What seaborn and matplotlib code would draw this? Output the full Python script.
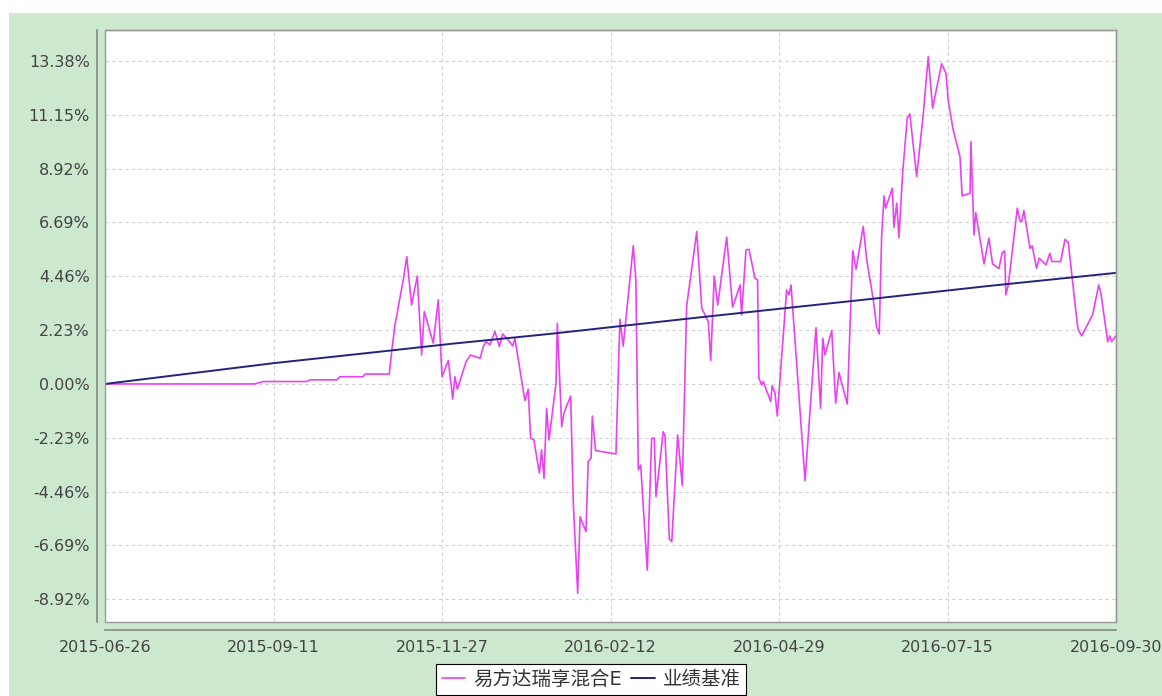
import pandas as pd
import matplotlib
matplotlib.use('Agg')
import matplotlib.pyplot as plt
from matplotlib.patches import Rectangle
import seaborn as sns

# tick positions / labels
tick_labels = ['2015-06-26', '2015-09-11', '2015-11-27', '2016-02-12',
               '2016-04-29', '2016-07-15', '2016-09-30']
ytick_vals = [-8.92, -6.69, -4.46, -2.23, 0.00, 2.23, 4.46, 6.69, 8.92, 11.15, 13.38]

series_names = ['易方达瑞享混合E', '业绩基准']

# fund cumulative return (%), x as days since 2015-06-26
fund_day = [0, 68.5, 72.3, 92.2, 93.7, 105.9, 107.4, 118.0, 118.8, 129.9,
            131.0, 132.5, 136.3, 137.9, 140.1, 142.7, 144.7, 145.9, 150.0, 152.3,
            154.0, 156.9, 158.9, 159.9, 161.0, 165.0, 167.1, 171.4, 172.9, 174.1,
            175.9, 178.2, 180.2, 181.7, 184.3, 186.3, 187.3, 190.4, 191.9, 193.4,
            194.5, 196.0, 198.5, 199.5, 200.6, 201.8, 202.9, 206.1, 206.7, 208.7,
            209.7, 212.8, 214.0, 216.0, 217.1, 219.8, 220.8, 222.1, 222.7, 224.2,
            233.5, 235.3, 236.8, 241.4, 242.6, 243.7, 244.8, 247.8, 249.8, 251.0,
            251.8, 255.1, 255.9, 257.9, 259.0, 261.7, 263.8, 265.8, 270.4, 272.7,
            275.7, 276.8, 278.4, 280.0, 284.1, 286.8, 290.2, 290.9, 292.9, 294.3,
            297.0, 298.2, 298.8, 300.1, 300.8, 304.2, 304.9, 306.2, 307.2, 311.5,
            312.6, 313.5, 319.9, 324.9, 327.0, 328.0, 329.0, 332.1, 333.9, 335.4,
            339.2, 341.7, 343.2, 346.5, 348.1, 351.1, 352.6, 353.8, 354.9, 356.0,
            356.7, 359.8, 360.5, 361.8, 362.8, 364.5, 366.6, 367.8, 370.9, 373.9,
            376.2, 378.2, 382.3, 384.3, 385.3, 387.6, 390.7, 391.7, 395.3, 395.7,
            397.1, 397.9, 401.7, 403.9, 405.6, 408.5, 410.0, 411.1, 411.7, 412.8,
            416.9, 418.1, 418.9, 419.9, 422.7, 423.7, 425.7, 426.9, 430.0, 431.8,
            432.7, 436.7, 438.7, 440.2, 444.3, 444.8, 446.3, 451.3, 454.1, 455.1,
            458.2, 459.2, 460.0, 462.0]
fund_ret = [0.00, 0.00, 0.10, 0.10, 0.17, 0.17, 0.30, 0.30, 0.41, 0.41,
            1.34, 2.44, 4.31, 5.27, 3.27, 4.47, 1.20, 3.00, 1.69, 3.48,
            0.30, 0.97, -0.63, 0.30, -0.22, 0.92, 1.20, 1.06, 1.55, 1.75,
            1.62, 2.17, 1.55, 2.07, 1.82, 1.57, 1.89, 0.17, -0.69, -0.22,
            -2.25, -2.32, -3.70, -2.73, -3.91, -1.01, -2.32, 0.03, 2.51, -1.77,
            -1.21, -0.50, -4.94, -8.67, -5.50, -6.12, -3.22, -3.08, -1.33, -2.76,
            -2.90, 2.68, 1.57, 5.72, 4.31, -3.56, -3.36, -7.71, -2.25, -2.25,
            -4.67, -1.98, -2.15, -6.43, -6.53, -2.11, -4.21, 3.23, 6.31, 3.14,
            2.58, 0.97, 4.47, 3.27, 6.08, 3.18, 4.10, 2.86, 5.55, 5.58,
            4.38, 4.31, 0.24, -0.04, 0.10, -0.73, -0.07, -0.39, -1.33, 3.89,
            3.69, 4.10, -4.01, 2.33, -1.01, 1.89, 1.20, 2.21, -0.80, 0.47,
            -0.83, 5.52, 4.75, 6.52, 5.14, 3.48, 2.37, 2.07, 6.10, 7.79,
            7.28, 8.11, 6.49, 7.49, 6.06, 8.73, 11.01, 11.18, 8.59, 11.14,
            13.56, 11.42, 13.26, 12.87, 11.76, 10.52, 9.42, 7.79, 7.90, 10.04,
            6.17, 7.10, 4.97, 6.04, 4.97, 4.78, 5.44, 5.51, 3.69, 4.10,
            7.28, 6.76, 6.72, 7.18, 5.62, 5.72, 4.79, 5.21, 4.93, 5.41,
            5.07, 5.07, 5.99, 5.85, 2.49, 2.24, 1.99, 2.86, 4.10, 3.76,
            1.75, 1.99, 1.75, 1.99]

# benchmark (%)
bench_day = [0, 77, 126, 158, 203, 272, 350, 385, 404, 462]
bench_ret = [0.00, 0.86, 1.34, 1.66, 2.07, 2.76, 3.52, 3.87, 4.06, 4.60]

start = pd.Timestamp('2015-06-26')
fund_dates = start + pd.to_timedelta(fund_day, unit='D')
bench_dates = start + pd.to_timedelta(bench_day, unit='D')
tick_dates = pd.to_datetime(tick_labels)

sns.set_style('white')
plt.rcParams['font.family'] = ['DejaVu Sans', 'Noto Sans CJK SC']

W, H = 1162, 696
fig = plt.figure(figsize=(W / 100, H / 100), dpi=100)
fig.patch.set_facecolor('white')
# green panel behind everything
fig.patches.append(Rectangle((9 / W, 0), 1, (H - 13) / H, transform=fig.transFigure,
                             facecolor='#CCE8CF', edgecolor='none', zorder=-5))

ax = fig.add_axes([105 / W, (H - 622) / H, 1011 / W, 592 / H])
ax.set_facecolor('white')

sns.lineplot(x=fund_dates, y=fund_ret, ax=ax, color='#E843F0', linewidth=1.2,
             estimator=None, sort=False, label=series_names[0])
sns.lineplot(x=bench_dates, y=bench_ret, ax=ax, color='#23237E', linewidth=1.4,
             estimator=None, sort=False, label=series_names[1])

ax.set_xlim(tick_dates[0], tick_dates[-1])
ax.set_ylim(-9.86, 14.66)
ax.set_xticks(tick_dates)
ax.set_xticklabels(tick_labels)
ax.set_yticks(ytick_vals)
ax.set_yticklabels(['%.2f%%' % v for v in ytick_vals])
ax.set_xlabel('')
ax.set_ylabel('')

ax.set_axisbelow(True)
ax.grid(True, color='#D0D0D0', linestyle=(0, (3, 3)), linewidth=0.8)

# offset axis lines plus a full border round the plot area
for s in ['left', 'bottom']:
    ax.spines[s].set_position(('outward', 5.5))
    ax.spines[s].set_color('#888888')
    ax.spines[s].set_linewidth(1.2)
for s in ['top', 'right']:
    ax.spines[s].set_color('#999999')
    ax.spines[s].set_linewidth(1.0)
ax.add_patch(Rectangle((0, 0), 1, 1, transform=ax.transAxes, fill=False,
                       edgecolor='#999999', linewidth=1.0, clip_on=False, zorder=3))

ax.tick_params(direction='out', length=2.5, width=1, color='#888888',
               labelsize=11.5, labelcolor='#444444')
ax.tick_params(axis='y', pad=3)
ax.tick_params(axis='x', pad=5)

handles, labels = ax.get_legend_handles_labels()
ax.legend_.remove()
leg = fig.legend(handles, labels, loc='upper center',
                 bbox_to_anchor=(591 / W, 1 - 664 / H), borderaxespad=0,
                 ncol=2, frameon=True, fancybox=False, edgecolor='black',
                 framealpha=1, fontsize=14, handlelength=1.2,
                 handletextpad=0.4, columnspacing=0.5, borderpad=0.3)
leg.get_frame().set_linewidth(0.8)
for t in leg.get_texts():
    t.set_color('#333333')

fig.savefig('out.png', dpi=100)
